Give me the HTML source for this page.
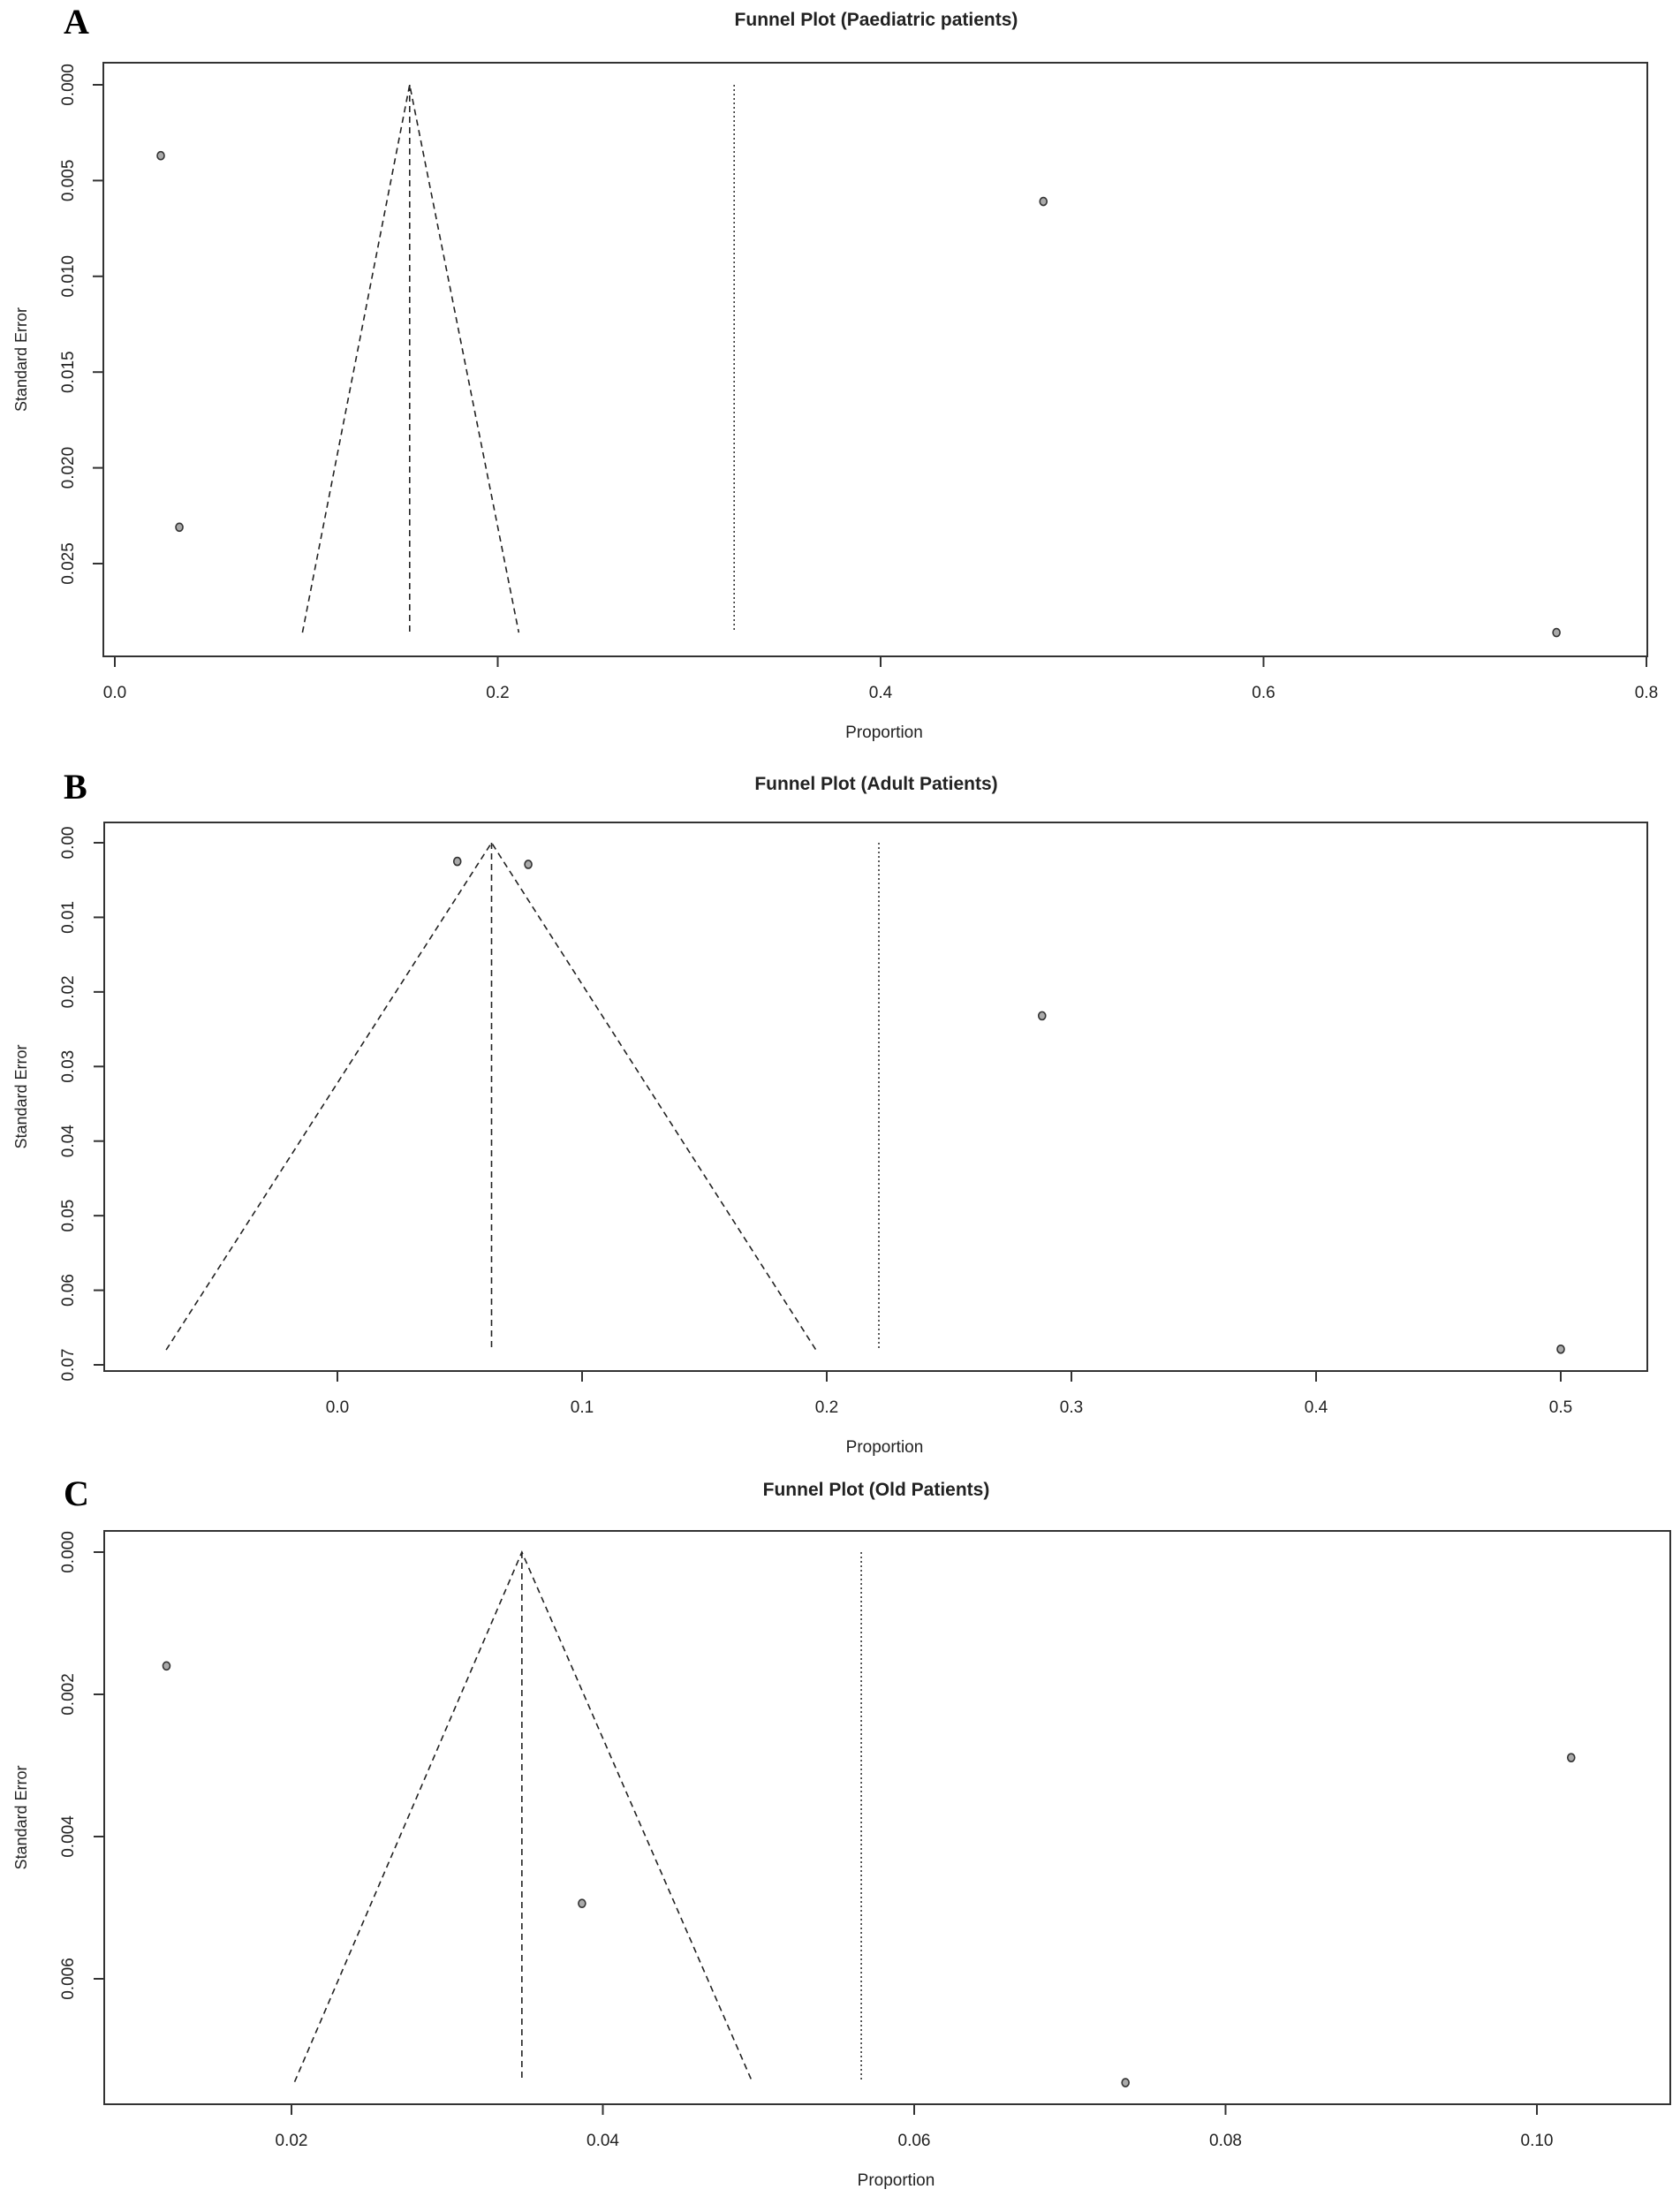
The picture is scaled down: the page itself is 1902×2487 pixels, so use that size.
<!DOCTYPE html>
<html><head><meta charset="utf-8"><style>
html,body{margin:0;padding:0;background:#fff;}
svg{display:block;}
text{font-family:"Liberation Sans",sans-serif;fill:#222;}
text.serif{font-family:"Liberation Serif",serif;fill:#000;}
</style></head><body>
<svg id="fig" width="1902" height="2487" viewBox="0 0 1902 2487" xmlns="http://www.w3.org/2000/svg"></svg>
<script>
// Panel A data
const aTitle = "Funnel Plot (Paediatric patients)";
const aProp = [0.024, 0.0337, 0.485, 0.753];
const aSE = [0.0037, 0.0231, 0.00609, 0.0286];
const aFunnel = [0.098, 0.154, 0.211]; // left, center, right at max SE
const aMaxSE = 0.0286;
const aPooled = 0.3235;
const aXTicks = [0.0, 0.2, 0.4, 0.6, 0.8];
const aXTickLabels = ["0.0","0.2","0.4","0.6","0.8"];
const aYTicks = [0, 0.005, 0.010, 0.015, 0.020, 0.025];
const aYTickLabels = ["0.000","0.005","0.010","0.015","0.020","0.025"];
// Panel B data
const bTitle = "Funnel Plot (Adult Patients)";
const bProp = [0.049, 0.078, 0.288, 0.5];
const bSE = [0.0025, 0.0029, 0.0232, 0.0679];
const bFunnel = [-0.070, 0.063, 0.1956];
const bMaxSE = 0.068;
const bPooled = 0.2213;
const bXTicks = [0.0, 0.1, 0.2, 0.3, 0.4, 0.5];
const bXTickLabels = ["0.0","0.1","0.2","0.3","0.4","0.5"];
const bYTicks = [0, 0.01, 0.02, 0.03, 0.04, 0.05, 0.06, 0.07];
const bYTickLabels = ["0.00","0.01","0.02","0.03","0.04","0.05","0.06","0.07"];
// Panel C data
const cTitle = "Funnel Plot (Old Patients)";
const cProp = [0.01197, 0.1022, 0.03866, 0.07357];
const cSE = [0.0016, 0.00289, 0.00494, 0.00746];
const cFunnel = [0.0202, 0.0348, 0.0496];
const cMaxSE = 0.00745;
const cPooled = 0.0566;
const cXTicks = [0.02, 0.04, 0.06, 0.08, 0.10];
const cXTickLabels = ["0.02","0.04","0.06","0.08","0.10"];
const cYTicks = [0, 0.002, 0.004, 0.006];
const cYTickLabels = ["0.000","0.002","0.004","0.006"];

const NS="http://www.w3.org/2000/svg";
const svg=document.getElementById('fig');
function mk(tag,attrs,parent){const e=document.createElementNS(NS,tag);for(const k in attrs)e.setAttribute(k,attrs[k]);(parent||svg).appendChild(e);return e;}

function panel(cfg){
  const g=mk('g',{});
  
  
  const X=v=>cfg.x0px+(v-cfg.x0v)*(cfg.x1px-cfg.x0px)/(cfg.x1v-cfg.x0v);
  const Y=v=>cfg.y0px+(v-cfg.y0v)*(cfg.y1px-cfg.y0px)/(cfg.y1v-cfg.y0v);
  const L=cfg.box;
  const lt=mk('text',{x:72,y:cfg.letterY,'class':'serif','font-size':40,'font-weight':'bold'},g);
  lt.textContent=cfg.id.toUpperCase();
  
  
  const t=mk('text',{x:992,y:cfg.titleY,'text-anchor':'middle','font-size':21,'font-weight':'bold'},g);
  t.textContent=cfg.title;
  
  
  const r=mk('rect',{x:L[0],y:L[1],width:L[2]-L[0],height:L[3]-L[1],fill:'none',stroke:'#333','stroke-width':2},g);
  
  
  cfg.xt.forEach((v,i)=>{
    mk('line',{x1:X(v),x2:X(v),y1:L[3],y2:L[3]+12,stroke:'#333','stroke-width':2},g);
    const tx=mk('text',{x:X(v),y:L[3]+47,'text-anchor':'middle','font-size':19},g);
    tx.textContent=cfg.xl[i];
    
    
  });
  cfg.yt.forEach((v,i)=>{
    mk('line',{x1:L[0],x2:L[0]-12,y1:Y(v),y2:Y(v),stroke:'#333','stroke-width':2},g);
    const ty=mk('text',{x:0,y:0,'text-anchor':'middle','font-size':19,transform:`translate(83,${Y(v)}) rotate(-90)`},g);
    ty.textContent=cfg.yl[i];
    
    
  });
  const xa=mk('text',{x:(L[0]+L[2])/2+10,y:L[3]+92,'text-anchor':'middle','font-size':19},g);
  xa.textContent='Proportion';
  
  
  const ya=mk('text',{x:0,y:0,'text-anchor':'middle','font-size':18,transform:`translate(30,${(L[1]+L[3])/2}) rotate(-90)`},g);
  ya.textContent='Standard Error';
  
  
  const f=cfg.funnel;
  const fp=mk('polyline',{points:`${X(f[0])},${Y(cfg.maxSE)} ${X(f[1])},${Y(0)} ${X(f[2])},${Y(cfg.maxSE)}`,fill:'none',stroke:'#222','stroke-width':1.6,'stroke-dasharray':'7,5'},g);
  
  
  const cl=mk('line',{x1:X(f[1]),x2:X(f[1]),y1:Y(0),y2:Y(cfg.maxSE),stroke:'#222','stroke-width':1.6,'stroke-dasharray':'7,5'},g);
  
  
  const pl=mk('line',{x1:X(cfg.pooled),x2:X(cfg.pooled),y1:Y(0),y2:Y(cfg.maxSE),stroke:'#333','stroke-width':1.6,'stroke-dasharray':'2,3'},g);
  
  
  cfg.px.forEach((v,i)=>{
    const c=mk('ellipse',{cx:X(v),cy:Y(cfg.py[i]),rx:4,ry:4.5,fill:'#aaa',stroke:'#333','stroke-width':1.6},g);
    
    
  });
}

panel({id:'a',title:aTitle,letterY:38,titleY:29,box:[117,71,1865,743],
  x0v:0,x0px:130,x1v:0.8,x1px:1864,y0v:0,y0px:96,y1v:0.025,y1px:638,
  xt:aXTicks,xl:aXTickLabels,yt:aYTicks,yl:aYTickLabels,funnel:aFunnel,maxSE:aMaxSE,pooled:aPooled,px:aProp,py:aSE});
panel({id:'b',title:bTitle,letterY:904,titleY:894,box:[118,931,1865,1552],
  x0v:0,x0px:382,x1v:0.5,x1px:1767,y0v:0,y0px:954,y1v:0.07,y1px:1545,
  xt:bXTicks,xl:bXTickLabels,yt:bYTicks,yl:bYTickLabels,funnel:bFunnel,maxSE:bMaxSE,pooled:bPooled,px:bProp,py:bSE});
panel({id:'c',title:cTitle,letterY:1704,titleY:1693,box:[118,1733,1891,2382],
  x0v:0.02,x0px:330,x1v:0.10,x1px:1740,y0v:0,y0px:1757,y1v:0.006,y1px:2240,
  xt:cXTicks,xl:cXTickLabels,yt:cYTicks,yl:cYTickLabels,funnel:cFunnel,maxSE:cMaxSE,pooled:cPooled,px:cProp,py:cSE});
</script>
</body></html>
